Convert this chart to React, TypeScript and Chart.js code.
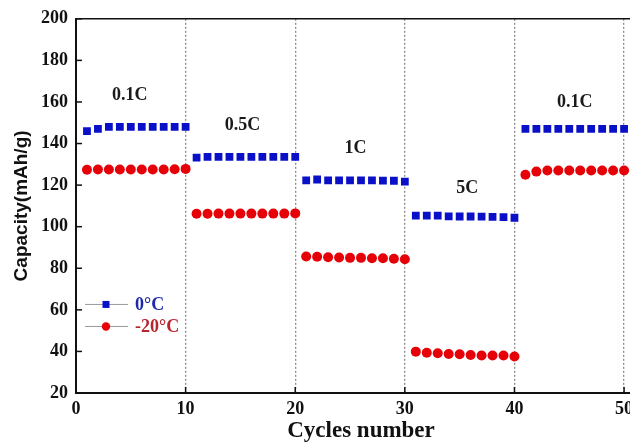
import React, { useEffect, useRef } from "react";
import { Chart, registerables } from "chart.js";

Chart.register(...registerables);

const cycles = Array.from({ length: 50 }, (_, i) => i + 1);

const cap0C = [
  146, 147, 148, 148, 148, 148, 148, 148, 148, 148,
  133.2, 133.6, 133.6, 133.6, 133.6, 133.6, 133.6, 133.6, 133.6, 133.6,
  122.3, 122.7, 122.3, 122.3, 122.3, 122.3, 122.3, 122.2, 122.1, 121.7,
  105.3, 105.3, 105.3, 105, 104.9, 104.9, 104.8, 104.7, 104.6, 104.3,
  147, 147, 147, 147, 147, 147, 147, 147, 147, 147,
];

const capMinus20C = [
  127.4, 127.5, 127.5, 127.5, 127.5, 127.5, 127.5, 127.5, 127.6, 127.8,
  106.2, 106.2, 106.3, 106.3, 106.3, 106.3, 106.3, 106.3, 106.3, 106.4,
  85.7, 85.5, 85.3, 85.2, 85, 85, 84.8, 84.8, 84.6, 84.3,
  39.9, 39.4, 39.1, 38.8, 38.6, 38.3, 38, 38, 38, 37.6,
  125, 126.5, 127, 127, 127, 127, 127, 127, 127, 127,
];

const xTicks = [0, 10, 20, 30, 40, 50];
const yTicks = [20, 40, 60, 80, 100, 120, 140, 160, 180, 200];

const rateLabels = ["0.1C", "0.5C", "1C", "5C", "0.1C"];
const seriesNames = ["0\u00B0C", "-20\u00B0C"];

const BLUE = "#0a10c8";
const RED = "#e60008";
const SERIF = "'Liberation Serif', 'Times New Roman', serif";
const SANS = "'Liberation Sans', Arial, sans-serif";

// anchors (data coordinates) for the rate annotations
const rateAnchorX = [4.9, 15.2, 25.5, 35.7, 45.5];
const rateAnchorY = [163, 148.6, 137.6, 118.4, 159.7];

const decorPlugin = {
  id: "decor",
  afterDraw(chart: any) {
    const ctx = chart.ctx;
    const area = chart.chartArea;
    const xs = chart.scales.x;
    const ys = chart.scales.y;
    ctx.save();
    // top frame line
    ctx.strokeStyle = "#111";
    ctx.lineWidth = 1.5;
    ctx.beginPath();
    ctx.moveTo(area.left, area.top);
    ctx.lineTo(area.right + 20, area.top);
    ctx.stroke();
    // inward ticks
    ctx.lineWidth = 1.5;
    yTicks.forEach((v) => {
      const py = ys.getPixelForValue(v);
      ctx.beginPath();
      ctx.moveTo(area.left, py);
      ctx.lineTo(area.left + 6, py);
      ctx.stroke();
    });
    xTicks.forEach((v) => {
      if (v === 0) return;
      const px = xs.getPixelForValue(v);
      ctx.beginPath();
      ctx.moveTo(px, area.bottom);
      ctx.lineTo(px, area.bottom - 6);
      ctx.stroke();
    });
    // rate annotations
    ctx.fillStyle = "#1a1a1a";
    ctx.font = `bold 18px ${SERIF}`;
    ctx.textAlign = "center";
    ctx.textBaseline = "middle";
    rateLabels.forEach((t, i) => {
      ctx.fillText(t, xs.getPixelForValue(rateAnchorX[i]), ys.getPixelForValue(rateAnchorY[i]));
    });
    // legend
    const lx0 = area.left + 9;
    const lx1 = area.left + 52;
    const lm = area.left + 30;
    const rows = [ys.getPixelForValue(62.6), ys.getPixelForValue(52)];
    const colors = [BLUE, RED];
    const textColors = ["#1e2aa8", "#b8242c"];
    rows.forEach((y, i) => {
      ctx.strokeStyle = "#9a9a9a";
      ctx.lineWidth = 1;
      ctx.beginPath();
      ctx.moveTo(lx0, y);
      ctx.lineTo(lx1, y);
      ctx.stroke();
      ctx.fillStyle = colors[i];
      if (i === 0) {
        ctx.fillRect(lm - 3.5, y - 3.5, 7, 7);
      } else {
        ctx.beginPath();
        ctx.arc(lm, y, 4.2, 0, Math.PI * 2);
        ctx.fill();
      }
      ctx.fillStyle = textColors[i];
      ctx.font = `bold 18px ${SERIF}`;
      ctx.textAlign = "left";
      ctx.textBaseline = "middle";
      ctx.fillText(seriesNames[i], lx1 + 7, y + 1);
    });
    ctx.restore();
  },
};

export default function App() {
  const ref = useRef<HTMLCanvasElement | null>(null);
  useEffect(() => {
    if (!ref.current) return;
    const chart = new Chart(ref.current, {
      type: "scatter",
      data: {
        datasets: [
          {
            label: seriesNames[0],
            data: cycles.map((c, i) => ({ x: c, y: cap0C[i] })),
            pointStyle: "rect",
            pointRadius: 5.5,
            backgroundColor: BLUE,
            borderColor: BLUE,
            borderWidth: 0,
            showLine: false,
          },
          {
            label: seriesNames[1],
            data: cycles.map((c, i) => ({ x: c, y: capMinus20C[i] })),
            pointStyle: "circle",
            pointRadius: 5,
            backgroundColor: RED,
            borderColor: RED,
            borderWidth: 0,
            showLine: false,
          },
        ],
      },
      options: {
        animation: false,
        responsive: false,
        devicePixelRatio: 1,
        layout: { padding: { top: 18, right: 14, left: 0, bottom: 0 } },
        plugins: { legend: { display: false }, tooltip: { enabled: false } },
        scales: {
          x: {
            type: "linear",
            min: 0,
            max: 52,
            afterBuildTicks: (s: any) => {
              s.ticks = xTicks.map((v) => ({ value: v }));
            },
            afterFit: (s: any) => {
              s.height = 52;
            },
            grid: {
              color: (c: any) => (c.tick && c.tick.value === 0 ? "rgba(0,0,0,0)" : "#8c8c8c"),
              lineWidth: 1.3,
              drawTicks: false,
            },
            border: { display: true, color: "#111", width: 2, dash: [2, 2] },
            ticks: {
              color: "#111",
              padding: 6,
              maxRotation: 0,
              autoSkip: false,
              font: { family: SERIF, size: 18, weight: "bold" },
            },
            title: {
              display: true,
              text: "Cycles number",
              color: "#111",
              font: { family: SERIF, size: 23, weight: "bold" },
              padding: { top: 0, bottom: 0 },
            },
          },
          y: {
            type: "linear",
            min: 20,
            max: 200,
            afterBuildTicks: (s: any) => {
              s.ticks = yTicks.map((v) => ({ value: v }));
            },
            afterFit: (s: any) => {
              s.width = 76;
            },
            grid: { display: false, drawTicks: false },
            border: { display: true, color: "#111", width: 2 },
            ticks: {
              color: "#111",
              padding: 8,
              font: { family: SERIF, size: 18, weight: "bold" },
            },
            title: {
              display: true,
              text: "Capacity(mAh/g)",
              color: "#111",
              font: { family: SANS, size: 19, weight: "bold" },
              padding: { top: 10, bottom: 0 },
            },
          },
        },
      },
      plugins: [decorPlugin],
    } as any);
    return () => chart.destroy();
  }, []);
  return (
    <div
      style={{
        position: "absolute",
        left: 0,
        top: 0,
        width: 630,
        height: 445,
        overflow: "hidden",
        background: "#fff",
      }}
    >
      <canvas ref={ref} width={660} height={445} style={{ display: "block" }} />
    </div>
  );
}
